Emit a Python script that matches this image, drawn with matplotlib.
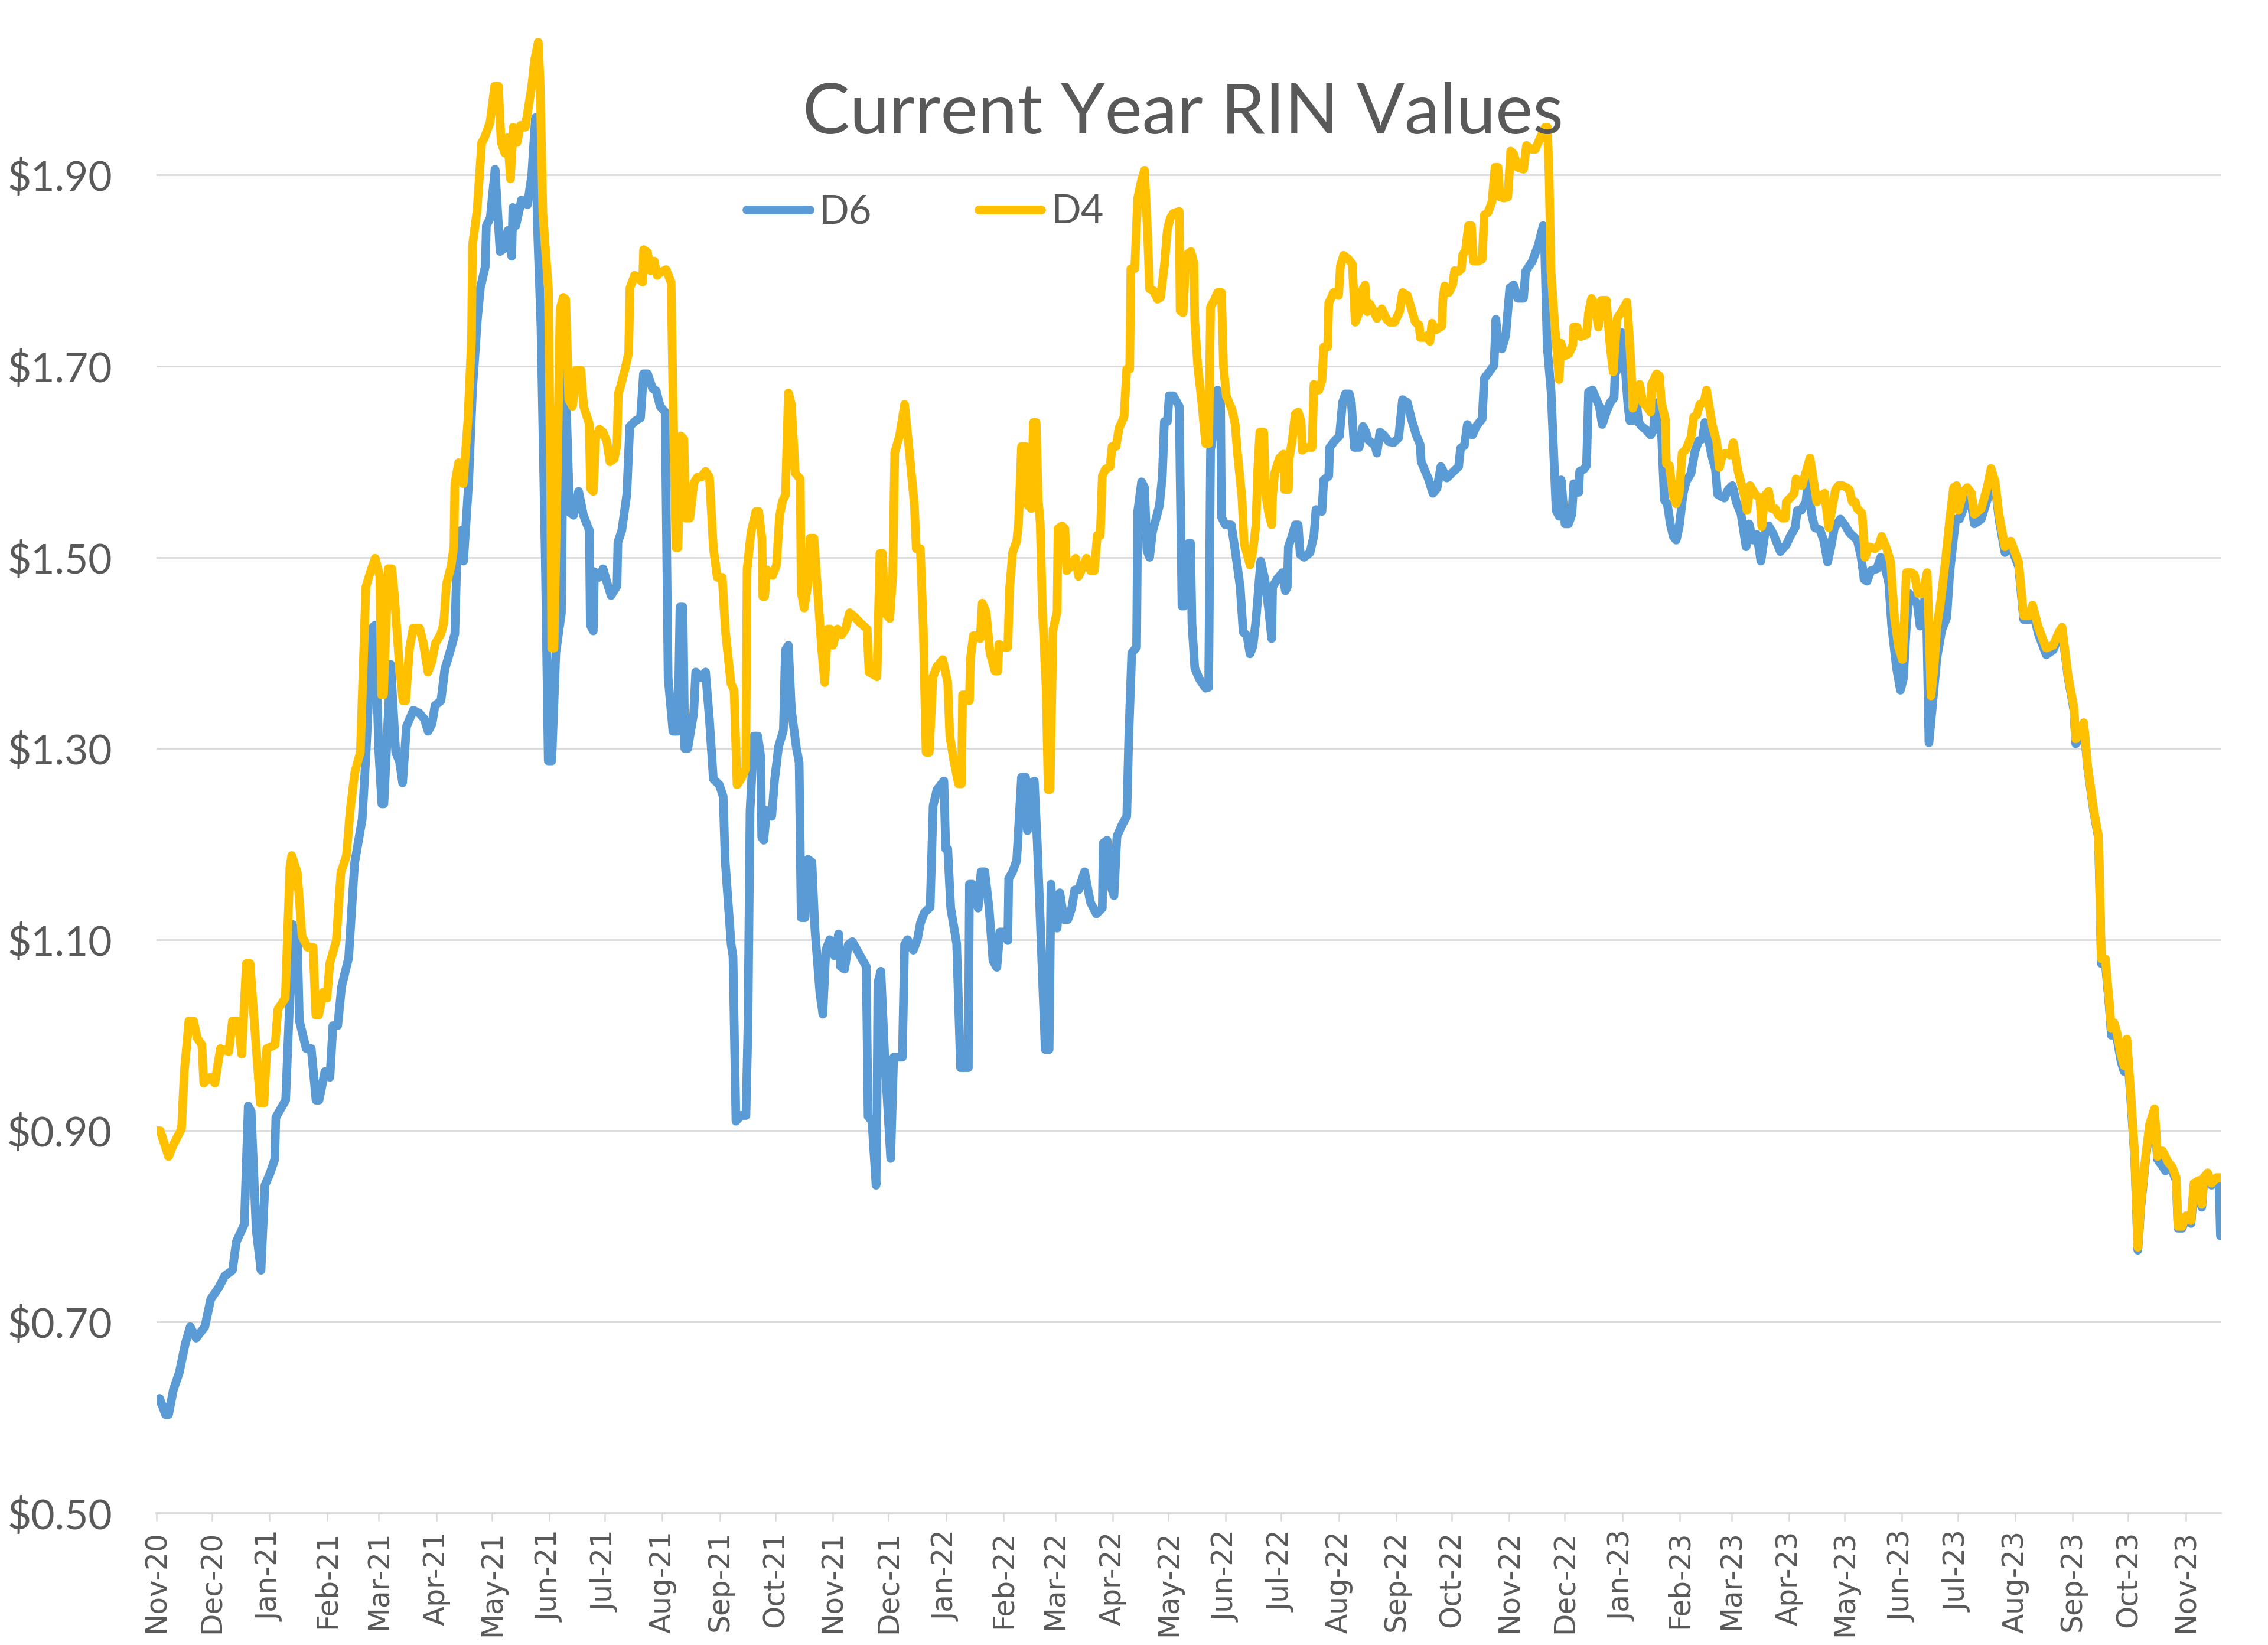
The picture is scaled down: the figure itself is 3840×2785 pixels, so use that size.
import numpy as np
import pandas as pd
import matplotlib
matplotlib.use("Agg")
import matplotlib.pyplot as plt
import matplotlib.dates as mdates
from matplotlib.ticker import FuncFormatter

# days counted from 2020-11-01, values in $ per RIN
START = pd.Timestamp("2020-11-01")
END_DAY = 1114

d6_day = [
    0, 1.7, 4.9, 6.5, 9.1, 12.3, 15.5, 18.2, 21.4, 26.1, 29.3, 33.6, 36.8, 41, 43.1,
    47.4, 49.5, 51.1, 53.8, 56.4, 58.5, 61.2, 63.8, 64.4, 69.7, 71.8, 73.4, 76.1, 77.1, 80.8,
    83.5, 86.1, 87.7, 90.9, 93.6, 95.2, 97.8, 99.9, 103.7, 106.9, 111, 113.1, 116.3, 117.9, 120,
    121.6, 122.7, 126.4, 129.1, 131.2, 132.8, 134.9, 138.6, 141.8, 144.5, 146.6, 148.7, 150.3, 153.5, 155.6,
    158.8, 161, 162, 164.1, 165.7, 168.4, 170.5, 173.2, 174.8, 177.4, 178, 180.1, 182.7, 185.4, 187.5,
    189.6, 191.7, 192.3, 193.9, 197, 200.2, 202.5, 204.5, 205.5, 207.5, 209.8, 211.4, 213.3, 215.5, 218.5,
    219.8,
    220.8, 223, 225.1, 227.8, 230.4, 233.6, 234.1, 235.7, 236.3, 238.9, 241, 243.2, 245.3, 248.5, 249,
    251.1, 253.8, 255.4, 258.6, 261.2, 262.8, 265, 267.6, 269.7, 271.8, 274.5, 276.1, 278.7, 281.4, 282.5,
    284.1, 285.1, 286.7, 289.9, 291, 294.1, 296.3, 298.4, 300.5, 303.7, 305.8, 306.9, 310.1, 311.1, 312.7,
    315.4, 318.1, 319.2, 320.3, 322.4, 324.5, 326.1, 326.6, 327.7, 329.3, 332, 333.6, 335.7, 338.3, 339.4,
    341, 342.6, 345.2, 346.8, 347.9, 350, 351.6, 353.7, 355.3, 358, 359.6, 361.2, 363.3, 365.9, 368.1,
    369.1, 371.3, 373.4, 375.5, 379.8, 383, 384, 386.1, 388.3, 388.8, 389.3, 390.9, 393, 396.2, 397.8,
    400, 402.5, 403.7, 405.3, 408.4, 410.6, 412.2, 414.3, 417.5, 419.1, 421.2, 424.9,
    425.9, 427, 428.6, 431.8, 433.9, 435.5, 438.1, 438.7, 440.3, 443.4, 445, 447, 449.3, 451.4, 453.5,
    455.1, 457.2, 459.4, 459.9, 462, 464.2, 466.8, 469, 470, 471.6, 473.7, 475.3, 477.4, 479.6, 481.7,
    482.7, 483.8, 486, 487.5, 489.7, 491.8, 493.9, 495.5, 497.6, 500.8, 504, 507.2, 510.4, 510.9, 513,
    514.6, 516.7, 518.3, 521, 523.6, 524.7, 526.3, 528.9, 529.5, 531.6, 533.2, 534.5, 535.9, 537.5, 539.6,
    541.2, 542.8, 543.9, 545.5, 546.5, 548.7, 551.9, 552.4, 553.4, 554.5, 557.2, 558, 558.8, 560.3, 563,
    566.2, 567.8, 568.8, 570.4, 572.6, 574.2, 574.7, 576.8, 580, 582.1, 584.8, 586.4, 588.5, 590.1, 591.7,
    593.3, 595.9, 598.1, 600.2, 601.8, 602.3, 605, 607.6, 609.2, 610.2, 610.8, 612.9, 614.5, 616.1, 617.2,
    619.3, 622.5, 624.6, 625.7, 628.9, 629.9, 632.6, 633.1, 636.3, 638.4, 640, 641.6, 643.7, 644.8, 646.4,
    649,
    651.1, 652.7, 653.8, 657.5, 658.6, 660.2, 662.3, 665, 667.6, 670.3, 672.4, 675, 677.2, 679.8, 681.9,
    682.5, 686.2, 688.8, 691, 693.1, 696.3, 699.5, 702.7, 703.7, 705.8, 707.4, 710.1, 712.2, 715.4, 716.5,
    719.6, 721.8, 722.8, 723.9, 726, 728.1, 730.3, 732.4, 734.5, 737.7, 738.8, 742.5, 745.7, 748.3, 749,
    750.5, 752.6, 755.3, 756.9, 758, 760.1, 762, 763.8, 764.8, 767.5, 768, 770.2, 771.7, 772.8, 774.9,
    778.6, 780.2, 782.4, 784.5, 786.6, 787.1, 789.3, 790.9, 792.5, 794.1, 795.1, 797, 798.8, 799.9, 801.5,
    804.1, 806.3, 807.9, 808.4, 810, 812.1, 813.7, 815.3, 816.9, 818.5, 820.1, 821.7, 823.8, 825.4, 828.1,
    830.2, 832.3, 834.4, 835.5, 837.1, 839.2, 841.3, 842.4, 844, 846.1, 848.2, 850.4, 852.5, 855.1, 857.8,
    859.4, 861.5, 863.6, 865.8, 867.9, 870, 872.6, 876.3, 879.5, 881.6, 884.3, 885.4, 887.5, 890.1, 891.2,
    893.3, 894.9, 897.6, 899.7, 901.8, 903.4, 905.5, 908.7, 911.4, 913.5, 917.8, 919.9, 921.5, 923.1, 925.2,
    928.4, 930.5, 932.6, 934.8, 936.4, 939, 941.1, 942.7, 944.3, 945.9, 948, 950.2, 951.7, 953.3, 954.9,
    956.5, 958.1, 960.8, 963.4, 966.1, 967.7, 970.9, 973, 975.1, 977.2,
    979.4, 981, 984.7, 987.9, 990, 992.2, 994.3, 997.5, 1000.7, 1004.9, 1007.6, 1010.8, 1012.4, 1015.5, 1019.8,
    1023.5, 1026.7, 1028.3, 1031.5, 1034.7, 1035.7, 1037.8, 1040, 1042.1, 1045.3, 1047.9, 1048.5, 1049.5, 1051.7, 1053.8,
    1054.9, 1056.4, 1058, 1060.2, 1061.8, 1063.3, 1065.5, 1067.6, 1069.2, 1070.8, 1073.4, 1075.6, 1078.2, 1079.8, 1082.5,
    1084.1, 1085.6, 1087.8, 1089.9, 1090.9, 1093.1, 1095.2, 1097.9, 1099.5, 1102.1, 1103.7, 1104.8, 1106.9, 1109, 1111.7,
    1113, 1113.8,
]
d6_val = [
    0.617, 0.62, 0.603, 0.603, 0.629, 0.647, 0.677, 0.695, 0.683, 0.695, 0.724, 0.736, 0.748, 0.754, 0.784,
    0.802, 0.926, 0.92, 0.796, 0.754, 0.843, 0.855, 0.87, 0.914, 0.932, 1.033, 1.116, 1.093, 1.015, 0.986,
    0.986, 0.932, 0.932, 0.962, 0.956, 1.01, 1.01, 1.051, 1.081, 1.18, 1.226, 1.296, 1.426, 1.429, 1.296,
    1.242, 1.242, 1.388, 1.296, 1.286, 1.264, 1.323, 1.34, 1.337, 1.331, 1.318, 1.326, 1.345, 1.35, 1.383,
    1.404, 1.42, 1.491, 1.528, 1.496, 1.577, 1.674, 1.75, 1.782, 1.804, 1.847, 1.855, 1.906, 1.82, 1.823,
    1.842, 1.815, 1.866, 1.847, 1.874, 1.869, 1.90, 1.96, 1.85, 1.74, 1.50, 1.287, 1.287, 1.40, 1.442,
    1.70,
    1.677, 1.547, 1.544, 1.569, 1.544, 1.528, 1.429, 1.423, 1.485, 1.479, 1.488, 1.473, 1.46, 1.47, 1.516,
    1.528, 1.566, 1.637, 1.643, 1.646, 1.692, 1.692, 1.677, 1.674, 1.658, 1.652, 1.374, 1.318, 1.318, 1.448,
    1.448, 1.3, 1.3, 1.337, 1.38, 1.374, 1.38, 1.33, 1.268, 1.262, 1.25, 1.182, 1.095, 1.083, 0.91,
    0.916, 0.916, 1.011, 1.235, 1.313, 1.313, 1.291, 1.207, 1.204, 1.235, 1.229, 1.268, 1.302, 1.319, 1.403,
    1.408, 1.341, 1.302, 1.285, 1.123, 1.123, 1.184, 1.181, 1.111, 1.044, 1.022, 1.089, 1.1, 1.083, 1.106,
    1.072, 1.069, 1.095, 1.098, 1.083, 1.072, 0.915, 0.91, 0.843, 0.921, 1.055, 1.067, 0.977, 0.871, 0.977,
    0.977, 0.977, 1.095, 1.1, 1.089, 1.1, 1.117, 1.128, 1.134, 1.24, 1.257, 1.266,
    1.195, 1.195, 1.133, 1.096, 0.966, 0.966, 0.966, 1.158, 1.158, 1.133, 1.171, 1.171, 1.133, 1.078, 1.071,
    1.108, 1.108, 1.099, 1.164, 1.171, 1.183, 1.27, 1.27, 1.214, 1.263, 1.266, 1.201, 1.096, 0.985, 0.985,
    1.158, 1.121, 1.112, 1.149, 1.121, 1.121, 1.133, 1.152, 1.152, 1.171, 1.139, 1.127, 1.133, 1.201, 1.204,
    1.158, 1.146, 1.208, 1.22, 1.229, 1.313, 1.4, 1.406, 1.548, 1.579, 1.573, 1.507, 1.5, 1.527, 1.542,
    1.554, 1.585, 1.642, 1.642, 1.669, 1.669, 1.658, 1.585, 1.449, 1.449, 1.515, 1.515, 1.43, 1.384, 1.372,
    1.363, 1.364, 1.612, 1.633, 1.675, 1.669, 1.542, 1.534, 1.534, 1.507, 1.469, 1.422, 1.418, 1.399, 1.407,
    1.434, 1.496, 1.477, 1.445, 1.415, 1.469, 1.478, 1.484, 1.465, 1.469, 1.511, 1.523, 1.534, 1.534, 1.503,
    1.5, 1.505, 1.523, 1.55, 1.548, 1.581, 1.585, 1.615, 1.623, 1.627, 1.662, 1.671, 1.671, 1.662, 1.615,
    1.615,
    1.637, 1.631, 1.623, 1.617, 1.609, 1.631, 1.628, 1.621, 1.62, 1.625, 1.665, 1.662, 1.645, 1.628, 1.618,
    1.6, 1.583, 1.567, 1.572, 1.595, 1.583, 1.589, 1.595, 1.614, 1.617, 1.639, 1.628, 1.637, 1.645, 1.687,
    1.695, 1.701, 1.749, 1.726, 1.718, 1.732, 1.782, 1.785, 1.771, 1.771, 1.799, 1.81, 1.827, 1.847, 1.833,
    1.72, 1.673, 1.549, 1.543, 1.581, 1.535, 1.535, 1.545, 1.577, 1.568, 1.59, 1.592, 1.596, 1.673, 1.675,
    1.658, 1.639, 1.652, 1.662, 1.667, 1.692, 1.7, 1.735, 1.7, 1.658, 1.643, 1.643, 1.66, 1.641, 1.637,
    1.633, 1.628, 1.633, 1.654, 1.662, 1.633, 1.56, 1.556, 1.535, 1.522, 1.518, 1.532, 1.566, 1.579, 1.588,
    1.611, 1.622, 1.624, 1.641, 1.628, 1.607, 1.592, 1.566, 1.564, 1.562, 1.571, 1.575, 1.558, 1.545, 1.511,
    1.535, 1.518, 1.524, 1.496, 1.524, 1.533, 1.524, 1.506, 1.513, 1.522, 1.531, 1.549, 1.549, 1.558, 1.578,
    1.544, 1.531, 1.529, 1.518, 1.495, 1.509, 1.531, 1.54, 1.533, 1.526, 1.518, 1.5, 1.477, 1.475, 1.486,
    1.488, 1.5, 1.491, 1.473, 1.428, 1.384, 1.361, 1.373, 1.428, 1.462, 1.457, 1.451, 1.428, 1.435, 1.473,
    1.306, 1.339, 1.395, 1.424, 1.437, 1.484, 1.54, 1.54, 1.551, 1.562,
    1.555, 1.535, 1.54, 1.56, 1.59, 1.575, 1.54, 1.505, 1.512, 1.49, 1.435, 1.435, 1.445, 1.42, 1.398,
    1.403, 1.418, 1.424, 1.375, 1.34, 1.305, 1.31, 1.325, 1.28, 1.235, 1.207, 1.165, 1.075, 1.075, 1.03,
    1.0, 1.005, 0.996, 0.972, 0.962, 0.99, 0.93, 0.868, 0.775, 0.82, 0.87, 0.905, 0.92, 0.87, 0.863,
    0.858, 0.862, 0.858, 0.848, 0.798, 0.798, 0.808, 0.803, 0.84, 0.845, 0.82, 0.848, 0.852, 0.843, 0.848,
    0.848, 0.79,
]

d4_day = [
    0, 2, 6.5, 9, 13.5, 15, 17.5, 20, 22, 24.5, 25.5, 29, 31.5, 34.5, 39,
    41, 44, 46, 48.5, 50.5, 52.5, 56, 58, 59.5, 64, 65.5, 69.5, 72, 73, 76,
    78.5, 81.5, 84.5, 86, 87.5, 90, 92, 93.5, 97, 99.5, 102.5, 104.5, 107, 110,
    113, 115.5, 118, 120.5, 121.5, 122.5, 125, 127, 128.5, 131, 133, 134.5, 136.5, 138.5, 142,
    144, 146.5, 148.5, 150.5, 153.5, 155, 156.5, 159, 160.5, 161, 163, 165.5, 168, 170, 170.5,
    173, 175.5, 177, 180, 182.5, 184.5, 186, 188, 189.5, 191, 192.5, 194.5, 196.5, 199, 202.5,
    204, 206, 207, 208.5, 211.5, 212.8, 213.3, 214.5, 216.4, 217.8, 219.5, 220.8,
    222.5, 224.5, 226.5, 229, 230.5, 233.5, 234.2, 235.7, 237, 239, 241, 243, 244.7, 247, 248.5,
    249.2, 250.6, 252.7, 254.8, 255.5, 258, 260.7, 262.3, 262.9, 265, 266.5, 268.6, 270.2, 271.8, 275,
    277.7, 278.7, 280.3, 281.4, 283, 284.6, 285.6, 287.8, 290, 292, 294, 296.3, 298.4, 300.5, 302.6,
    305.3, 307, 310, 311.7, 313.3, 315.4, 318, 318.7, 320.8, 323.5, 325, 326.7, 327.2, 328.2, 329.3,
    332.5, 334.6, 336.2, 337.8, 339.4, 341, 342.6, 344.7, 347.4, 347.9, 349.5, 351.6, 352.7, 354.8, 356.4,
    359, 360.6, 362.2, 363.5, 365, 367.5, 369.7, 371.8, 374, 376, 380, 383.5, 384.5, 387.2, 388.8,
    390.4, 391.8, 393, 395.7, 397.3, 398.4, 401, 403.7, 406.3, 409, 410, 412.2, 413.8, 415.3, 417,
    419, 421.2,
    424.3, 427, 428.1, 430.2, 432.8, 434.4, 435, 436.8, 438.7, 439.2, 440.8, 442.9, 444.5, 445.6, 447.7,
    449.8, 452.5, 454, 454.6, 457.3, 459.4, 460.4, 462, 464.2, 465.2, 466.8, 469, 470.5, 472.1, 473.2,
    474.7, 475.8, 476.9, 478, 480.1, 481.2, 482.2, 483.8, 486, 486.5, 488.6, 490.2, 491.2, 493.9, 496,
    497.6, 499.7, 501.9, 504, 506.1, 507.7, 509.3, 510.4, 512, 514.6, 515.7, 517.8, 519.4, 522.1, 523.6,
    525.2, 525.8, 527.9, 529.5, 531.6, 533.2,
    534.9, 535.9, 538, 540.2, 541.8, 543.9, 545.5, 547.1, 548.7, 551.9, 552.4, 554, 555.6, 558.2, 559.8,
    560.3, 561.9, 564.1, 566.2, 567.8, 568.8, 571, 572.6, 574.7, 575.8, 577.3, 580.5, 582.1, 583.2, 585.8,
    586.9, 588, 590.1, 591.7, 593.3, 594.3, 595.4, 597.5, 598.6, 600.2, 601.8, 602.3, 603.4, 606, 608.2,
    608.7, 610.8, 611.3, 612.9, 614.5, 616.1, 617.7, 618.2, 620.9, 623.6, 624.6, 627.3, 628.9, 629.9, 632,
    632.6, 635.2, 637.9, 638.9, 640.6, 643.2, 645.3, 646.9, 648.5, 650.1, 652.2, 653.3, 654.8, 657, 658.6,
    661.2, 663.9, 665.5, 668.1, 670.8, 672.4, 675, 677.2, 679.3, 681.4, 682, 684.6, 685.7, 687.2, 688.3,
    690.4, 693.6, 694.2, 695.2, 697.3, 699.5, 700.5, 702.7, 704.2, 704.8, 706.4, 708, 709.6, 710.6, 713.3,
    715.4, 716.5, 718.6, 720.7, 722.3, 723.9, 725, 727.1, 729.2, 730.8, 732.4, 734.5, 737.7, 739.3, 742,
    744.1, 746.7, 749.4, 750.6,
    751.5, 752.5, 754.5, 756.9, 757.9, 760.1, 762.2, 764.3, 764.8, 766.5, 768.6, 771.7, 772.8, 774.4, 776,
    778.1, 779.7, 782.4, 784.5, 786.1, 787.1, 788.2, 790.9, 793.5, 794.6, 796.2, 796.7, 799.4, 800.4, 802.1,
    804.1, 806.3, 806.8, 809.5, 811, 812.1, 814.2, 814.8, 816.4, 818.5, 820.1, 821.7, 823.3, 825.4, 828.1,
    829.6, 831.2, 832.8, 835, 836.5, 837.6, 839.7, 841.9, 843.4, 845, 846.6, 849.3, 850.9, 853.5, 856.7,
    858.3, 860, 862.6, 865.2, 866.3, 867.8, 870, 871.6, 873.5, 875.3, 877.4, 879, 879.5, 881.6, 883.8,
    884.8, 886, 888, 890.1, 892.3, 893.9, 896, 898.1, 900.2, 902.4, 904, 906.1, 907.7, 909.8, 911.9,
    913.5, 915.1, 916.7, 917.8, 920.4, 922, 924.1, 927.3, 929.4, 931, 933.7, 935.8, 937.9, 940.1, 942.2,
    944.3, 947, 948.6, 950.7, 953.3, 955.5, 956.5, 957.6, 959.2, 960.8, 962.9, 965.6, 967.7, 969.8, 971.4,
    972.4, 975.1, 977.2,
    979.4, 981, 984.7, 987.9, 990, 992.2, 994.3, 997.5, 1000.7, 1004.9, 1007.6, 1010.8, 1012.4, 1015.5, 1019.8,
    1023.5, 1026.7, 1028.3, 1031.5, 1034.7, 1035.7, 1037.8, 1040, 1042.1, 1045.3, 1047.9, 1048.5, 1049.5, 1051.7, 1053.8,
    1054.9, 1056.4, 1058, 1060.2, 1061.8, 1063.3, 1065.5, 1067.6, 1069.2, 1070.8, 1073.4, 1075.6, 1078.2, 1079.8, 1082.5,
    1084.1, 1085.6, 1087.8, 1089.9, 1090.9, 1093.1, 1095.2, 1097.9, 1099.5, 1102.1, 1103.7, 1104.8, 1106.9, 1109, 1111.7,
    1113.8,
]
d4_val = [
    0.90, 0.90, 0.873, 0.885, 0.902, 0.962, 1.015, 1.015, 0.997, 0.99, 0.95, 0.956, 0.95, 0.986, 0.983,
    1.015, 1.015, 0.98, 1.075, 1.075, 1.021, 0.929, 0.929, 0.986, 0.99, 1.027, 1.039, 1.176, 1.188, 1.17,
    1.104, 1.092, 1.092, 1.021, 1.021, 1.045, 1.039, 1.075, 1.099, 1.17, 1.188, 1.235, 1.275, 1.296,
    1.469, 1.485, 1.499, 1.48, 1.356, 1.356, 1.488, 1.488, 1.458, 1.388, 1.35, 1.35, 1.404, 1.426, 1.426,
    1.41, 1.38, 1.39, 1.41, 1.42, 1.431, 1.472, 1.491, 1.512, 1.577, 1.599, 1.577, 1.642, 1.728, 1.826,
    1.863, 1.934, 1.939, 1.955, 1.993, 1.993, 1.934, 1.923, 1.939, 1.896, 1.95, 1.934, 1.952, 1.95, 1.993,
    2.02, 2.039, 1.998, 1.86, 1.78, 1.55, 1.405, 1.405, 1.60, 1.76, 1.772, 1.77,
    1.665, 1.658, 1.696, 1.696, 1.658, 1.64, 1.572, 1.569, 1.624, 1.634, 1.631, 1.621, 1.6, 1.603, 1.618,
    1.671, 1.68, 1.696, 1.714, 1.782, 1.795, 1.791, 1.788, 1.822, 1.819, 1.8, 1.81, 1.795, 1.798, 1.801,
    1.788, 1.671, 1.51, 1.51, 1.627, 1.624, 1.541, 1.541, 1.578, 1.584, 1.584, 1.59, 1.584, 1.51, 1.479,
    1.479, 1.423, 1.368, 1.361, 1.262, 1.268, 1.279, 1.487, 1.526, 1.548, 1.548, 1.52, 1.459, 1.459, 1.487,
    1.481, 1.492, 1.543, 1.559, 1.565, 1.672, 1.66, 1.588, 1.582, 1.464, 1.447, 1.473, 1.52, 1.52, 1.475,
    1.403, 1.369, 1.425, 1.425, 1.408, 1.425, 1.419, 1.425, 1.442, 1.439, 1.431, 1.425, 1.38, 1.377, 1.375,
    1.504, 1.504, 1.442, 1.436, 1.481, 1.61, 1.627, 1.66, 1.61, 1.554, 1.509, 1.509, 1.425, 1.296, 1.296,
    1.375, 1.386,
    1.393, 1.369, 1.313, 1.288, 1.263, 1.263, 1.356, 1.356, 1.35, 1.393, 1.418, 1.418, 1.415, 1.452, 1.443,
    1.4, 1.381, 1.381, 1.409, 1.406, 1.406, 1.468, 1.505, 1.517, 1.536, 1.616, 1.616, 1.554, 1.551, 1.641,
    1.641, 1.561, 1.536, 1.449, 1.362, 1.257, 1.257, 1.424, 1.443, 1.53, 1.533, 1.53, 1.486, 1.492, 1.499,
    1.48, 1.489, 1.499, 1.486, 1.486, 1.523, 1.523, 1.585, 1.592, 1.595, 1.616, 1.616, 1.635, 1.647, 1.697,
    1.697, 1.802, 1.802, 1.876, 1.895, 1.905,
    1.835, 1.781, 1.779, 1.77, 1.772, 1.805, 1.843, 1.855, 1.86, 1.862, 1.758, 1.756, 1.816, 1.82, 1.808,
    1.747, 1.7, 1.662, 1.619, 1.619, 1.762, 1.77, 1.777, 1.777, 1.7, 1.669, 1.654, 1.639, 1.612, 1.561,
    1.515, 1.507, 1.492, 1.507, 1.534, 1.592, 1.631, 1.631, 1.565, 1.546, 1.534, 1.565, 1.588, 1.604, 1.608,
    1.571, 1.571, 1.604, 1.623, 1.65, 1.652, 1.642, 1.612, 1.615, 1.615, 1.681, 1.675, 1.685, 1.72, 1.72,
    1.766, 1.777, 1.774, 1.805, 1.816, 1.812, 1.807, 1.746, 1.754, 1.777, 1.785, 1.757, 1.765, 1.757, 1.75,
    1.76, 1.749, 1.746, 1.746, 1.757, 1.777, 1.774, 1.76, 1.746, 1.743, 1.73, 1.73, 1.732, 1.726, 1.745,
    1.738, 1.742, 1.77, 1.784, 1.777, 1.785, 1.8, 1.799, 1.802, 1.816, 1.821, 1.847, 1.847, 1.81, 1.81,
    1.812, 1.858, 1.861, 1.872, 1.908, 1.908, 1.877, 1.876, 1.877, 1.925, 1.922, 1.908, 1.906, 1.931, 1.927,
    1.927, 1.939, 1.95, 1.95,
    1.90, 1.80, 1.745, 1.686, 1.724, 1.711, 1.713, 1.722, 1.741, 1.741, 1.731, 1.733, 1.756, 1.771, 1.765,
    1.741, 1.769, 1.769, 1.72, 1.694, 1.722, 1.75, 1.758, 1.767, 1.737, 1.684, 1.656, 1.679, 1.681, 1.662,
    1.658, 1.652, 1.681, 1.692, 1.69, 1.662, 1.645, 1.598, 1.596, 1.564, 1.556, 1.566, 1.609, 1.613, 1.626,
    1.647, 1.649, 1.66, 1.662, 1.675, 1.662, 1.637, 1.622, 1.594, 1.607, 1.609, 1.607, 1.62, 1.59, 1.566,
    1.549, 1.575, 1.566, 1.562, 1.532, 1.564, 1.569, 1.551, 1.551, 1.544, 1.541, 1.541, 1.558, 1.562, 1.567,
    1.582, 1.578, 1.575, 1.589, 1.604, 1.584, 1.558, 1.564, 1.567, 1.531, 1.549, 1.571, 1.575, 1.575, 1.573,
    1.571, 1.558, 1.558, 1.551, 1.546, 1.5, 1.511, 1.509, 1.512, 1.522, 1.509, 1.495, 1.437, 1.406, 1.393,
    1.484, 1.484, 1.482, 1.462, 1.462, 1.484, 1.428, 1.355, 1.384, 1.428, 1.455, 1.5, 1.54, 1.573, 1.575,
    1.549, 1.569, 1.573,
    1.567, 1.545, 1.551, 1.573, 1.593, 1.579, 1.545, 1.511, 1.517, 1.495, 1.439, 1.439, 1.45, 1.427, 1.405,
    1.408, 1.422, 1.427, 1.377, 1.343, 1.31, 1.315, 1.327, 1.282, 1.237, 1.209, 1.17, 1.08, 1.08, 1.035,
    1.007, 1.013, 1.002, 0.979, 0.968, 0.996, 0.935, 0.873, 0.778, 0.823, 0.873, 0.907, 0.923, 0.873, 0.879,
    0.873, 0.867, 0.862, 0.851, 0.8, 0.8, 0.811, 0.806, 0.845, 0.848, 0.823, 0.851, 0.856, 0.845, 0.851,
    0.851,
]

y_ticks = [0.5, 0.7, 0.9, 1.1, 1.3, 1.5, 1.7, 1.9]
month_ticks = pd.date_range("2020-11-01", "2023-11-01", freq="MS")

BLUE = "#5B9BD5"
GOLD = "#FFC000"
GREY = "#595959"
GRID = "#D9D9D9"

assert len(d6_day) == len(d6_val), (len(d6_day), len(d6_val))
assert len(d4_day) == len(d4_val), (len(d4_day), len(d4_val))


def to_dates(days):
    return START + pd.to_timedelta(np.asarray(days, dtype=float), unit="D")


fig = plt.figure(figsize=(19.2, 13.925), dpi=200)
ax = fig.add_axes([0.069, 0.0802, 0.9102, 0.9296])

line_kw = dict(lw=5.3, solid_joinstyle="round", solid_capstyle="round")
ax.plot(to_dates(d6_day), d6_val, color=BLUE, label="D6", zorder=3, **line_kw)
ax.plot(to_dates(d4_day), d4_val, color=GOLD, label="D4", zorder=4, **line_kw)

ax.set_xlim(START, START + pd.Timedelta(days=END_DAY))
ax.set_ylim(0.5, 2.1)

ax.set_yticks(y_ticks)
ax.yaxis.set_major_formatter(FuncFormatter(lambda v, _: f"${v:.2f}"))
ax.set_xticks(month_ticks)
ax.xaxis.set_major_formatter(mdates.DateFormatter("%b-%y"))

ax.grid(axis="y", color=GRID, lw=1.0)
ax.set_axisbelow(True)
for side in ["top", "right", "left"]:
    ax.spines[side].set_visible(False)
ax.spines["bottom"].set_color(GRID)
ax.spines["bottom"].set_linewidth(1.3)

ax.tick_params(axis="y", length=0, pad=27, labelsize=25, labelcolor=GREY)
ax.tick_params(axis="x", length=4.7, width=0.9, color=GRID, pad=6,
               labelsize=17.5, labelcolor=GREY, labelrotation=90)
for lab in ax.get_yticklabels():
    lab.set_fontfamily("Lato")
for lab in ax.get_xticklabels():
    lab.set_fontfamily("DejaVu Sans")

fig.text(0.5216, 0.931, "Current Year RIN Values", ha="center", va="center",
         fontsize=43, color=GREY, family="Lato")

fig.legend(loc="center", bbox_to_anchor=(0.408, 0.871), ncol=2, frameon=False,
           prop={"family": "Lato", "size": 24}, labelcolor=GREY,
           handlelength=1.6, handletextpad=0.25, columnspacing=2.7)

fig.savefig("out.png", dpi=200)
